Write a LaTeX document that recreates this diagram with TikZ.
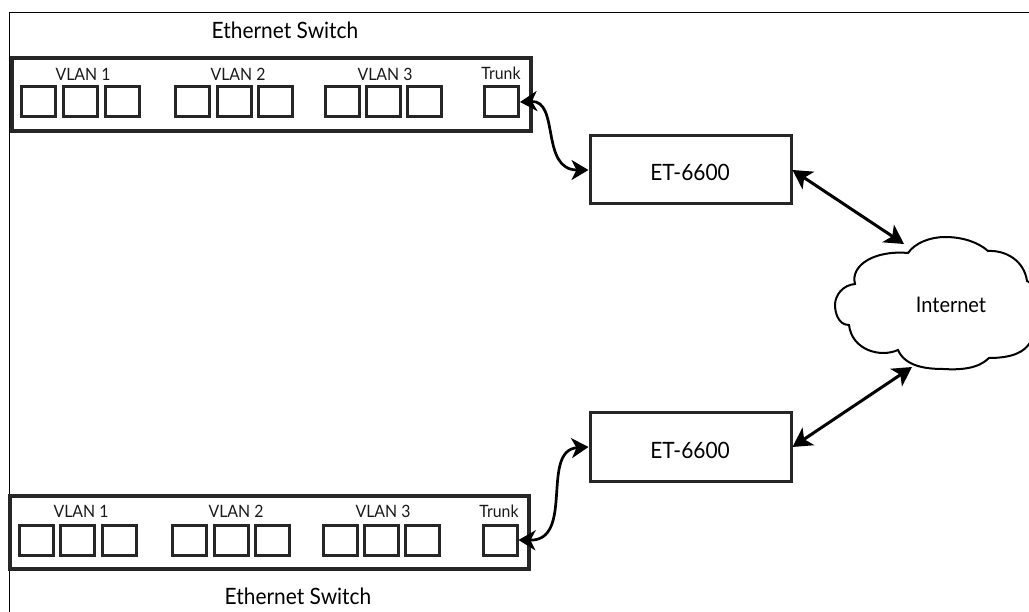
\documentclass[tikz,border=0pt]{standalone}
\usepackage{fontspec}
\setmainfont[FakeStretch=0.93]{Lato}
\usetikzlibrary{arrows.meta}
\tikzset{
  x=1pt,y=-1pt,
  frameline/.style={line width=1.6pt,black},
  switchbox/.style={draw=black!85,line width=3.2pt,inner sep=0pt,minimum width=519pt,minimum height=73pt},
  portbox/.style={draw=black!85,line width=3pt,inner sep=0pt,minimum width=34pt,minimum height=30pt},
  etbox/.style={draw=black!85,line width=3pt,inner sep=0pt,minimum width=201pt,minimum height=68pt},
  small/.style={font=\fontsize{17}{19}\selectfont,text=black!90,inner sep=0pt},
  trunklabel/.style={font=\fontsize{17}{19}\selectfont,text=black!90,inner sep=0pt},
  big/.style={font=\fontsize{22.5}{25}\selectfont,text=black,inner sep=0pt},
  inetlabel/.style={font=\fontsize{21.5}{25}\selectfont,text=black,inner sep=0pt},
  link/.style={line width=3pt,black,{Stealth[length=19pt,width=21pt,inset=5pt]}-{Stealth[length=19pt,width=21pt,inset=5pt]}},
  curvelink/.style={line width=2.7pt,black,{Stealth[length=17pt,width=20pt,inset=5pt]}-{Stealth[length=17pt,width=20pt,inset=5pt]}},
  cloudline/.style={line width=2pt,black,fill=white}
}
\begin{document}
\begin{tikzpicture}
\useasboundingbox (0,0) rectangle (1029,612);
\draw[frameline] (9.5,612) -- (9.5,12.5) -- (1029,12.5);

% cloud
\begin{scope}
\clip (0,0) rectangle (1029,612);
\draw[cloudline] (908,253)
  .. controls (915,243) and (930,237) .. (945,237)
  .. controls (962,237) and (978,242) .. (988,251)
  .. controls (1005,250) and (1024,260) .. (1027,281)
  .. controls (1032,282) and (1038,290) .. (1038,300)
  .. controls (1040,320) and (1036,345) .. (1018,353)
  .. controls (1010,357) and (998,358) .. (989,358)
  .. controls (978,369) and (960,370) .. (943,369)
  .. controls (925,369) and (905,366) .. (898,350)
  .. controls (880,358) and (852,350) .. (849,325)
  .. controls (838,325) and (835,312) .. (835,305)
  .. controls (835,295) and (843,285) .. (855,284)
  .. controls (850,265) and (875,250) .. (908,253) -- cycle;
\end{scope}
\node[inetlabel] (inet) at (951,305) {Internet};
\coordinate (cloudA) at (904,244);
\coordinate (cloudB) at (912,367);

% top switch
\node[switchbox] (sw1) at (271.5,94.5) {};
\node[big] (sw1t) at (285,30) {Ethernet Switch};
\node[small] (a1) at (83,74) {VLAN 1};
\node[small] (a2) at (238,74) {VLAN 2};
\node[small] (a3) at (385,74) {VLAN 3};
\node[trunklabel] (a4) at (501,73) {Trunk};
\foreach \n/\x in {p1/38,p2/80,p3/122,p4/192,p5/234,p6/275,p7/342,p8/383,p9/424,ptr/501.5}
  \node[portbox] (\n) at (\x,102) {};

% bottom switch
\node[switchbox] (sw2) at (269.5,532.5) {};
\node[big] (sw2t) at (298,596) {Ethernet Switch};
\node[small] (b1) at (81,511) {VLAN 1};
\node[small] (b2) at (236,511) {VLAN 2};
\node[small] (b3) at (383,511) {VLAN 3};
\node[trunklabel] (b4) at (499,511) {Trunk};
\foreach \n/\x in {q1/36,q2/77.5,q3/119.5,q4/189.5,q5/231.5,q6/272.5,q7/340,q8/381,q9/422,qtr/500}
  \node[portbox] (\n) at (\x,540) {};

% ET boxes
\node[etbox] (et1) at (690.5,170) {};
\node[big] (et1t) at (690,172) {ET-6600};
\node[etbox] (et2) at (690.5,447) {};
\node[big] (et2t) at (690,450) {ET-6600};

% connectors
\draw[curvelink] (ptr.east) .. controls (560,100) and (540,170) .. (et1.west);
\draw[curvelink] (qtr.east) .. controls (575,541) and (540,450) .. (et2.west);
\draw[link] (et1.east) -- (cloudA);
\draw[link] (et2.east) -- (cloudB);
\end{tikzpicture}
\end{document}
